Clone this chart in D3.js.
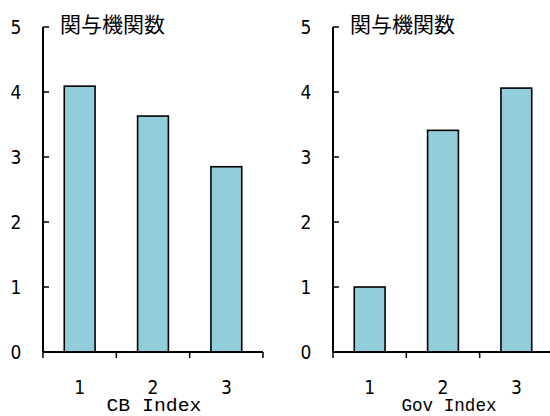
<!DOCTYPE html>
<html lang="ja">
<head>
<meta charset="UTF-8">
<title>関与機関数</title>
<script src="https://cdn.jsdelivr.net/npm/d3@7"></script>
<style>
body { margin: 0; background: #fff; }
.num { font: 19px "Liberation Sans Narrow", "DejaVu Sans Condensed", sans-serif; }
.ttl { font: 21px "Noto Sans CJK JP", sans-serif; }
.xlab { font: 18px "Liberation Mono", "DejaVu Sans Mono", monospace; }
</style>
</head>
<body>
<div id="chart"></div>
<script>
// data
const categories = ["1", "2", "3"];
const cbValues = [4.09, 3.63, 2.85];
const govValues = [1.0, 3.41, 4.06];
const yTicks = [0, 1, 2, 3, 4, 5];
const titleText = "関与機関数";
const cbLabel = "CB  Index";
const govLabel = "Gov Index";

const WIDTH = 550;
const HEIGHT = 416;
const Y_TOP = 27;
const Y_BOTTOM = 352;
const PANEL_W = 220;
const BAR_FILL = "#92CDDC";

const svg = d3.select("#chart").append("svg")
    .attr("width", WIDTH)
    .attr("height", HEIGHT);

const y = d3.scaleLinear().domain([0, 5]).range([Y_BOTTOM, Y_TOP]);

function drawPanel(x0, values, axisLabel, labelShift) {
    const g = svg.append("g");
    const x = d3.scaleBand()
        .domain(categories)
        .range([x0, x0 + PANEL_W])
        .paddingInner(0.58)
        .paddingOuter(0.29);
    const gap = (x.step() - x.bandwidth()) / 2;

    // bars
    g.selectAll("rect").data(values).join("rect")
        .attr("x", (d, i) => x(categories[i]))
        .attr("y", d => y(d))
        .attr("width", x.bandwidth())
        .attr("height", d => y(0) - y(d))
        .attr("fill", BAR_FILL)
        .attr("stroke", "#000")
        .attr("stroke-width", 1.6);

    // y axis, ticks point inward
    g.append("line")
        .attr("x1", x0).attr("x2", x0)
        .attr("y1", y(5)).attr("y2", y(0))
        .attr("stroke", "#000").attr("stroke-width", 2);
    g.selectAll(".ytick").data(yTicks).join("line")
        .attr("x1", x0).attr("x2", x0 + 6)
        .attr("y1", d => y(d)).attr("y2", d => y(d))
        .attr("stroke", "#000").attr("stroke-width", 1.5);
    g.selectAll(".ylab").data(yTicks).join("text")
        .attr("class", "num")
        .attr("x", x0 - 27)
        .attr("y", d => y(d))
        .attr("dy", "0.36em")
        .attr("text-anchor", "middle")
        .text(d => d);

    // x axis, ticks on the band edges
    g.append("line")
        .attr("x1", x0).attr("x2", x0 + PANEL_W)
        .attr("y1", y(0)).attr("y2", y(0))
        .attr("stroke", "#000").attr("stroke-width", 2);
    const bounds = categories.map(c => x(c) - gap).concat([x0 + PANEL_W]);
    g.selectAll(".xtick").data(bounds).join("line")
        .attr("x1", d => d).attr("x2", d => d)
        .attr("y1", y(0)).attr("y2", y(0) + 6)
        .attr("stroke", "#000").attr("stroke-width", 1.5);
    g.selectAll(".xlab").data(categories).join("text")
        .attr("class", "num")
        .attr("x", d => x(d) + x.bandwidth() / 2)
        .attr("y", 394)
        .attr("text-anchor", "middle")
        .text(d => d);

    g.append("text")
        .attr("class", "xlab")
        .attr("x", x(categories[1]) + x.bandwidth() / 2 + labelShift)
        .attr("y", 411)
        .attr("text-anchor", "middle")
        .attr("textLength", 95)
        .attr("lengthAdjust", "spacingAndGlyphs")
        .text(axisLabel);

    g.append("text")
        .attr("class", "ttl")
        .attr("x", x0 + 17)
        .attr("y", 25)
        .attr("dy", "0.35em")
        .text(titleText);
}

drawPanel(43, cbValues, cbLabel, 1);
drawPanel(333, govValues, govLabel, 6);
</script>
</body>
</html>
